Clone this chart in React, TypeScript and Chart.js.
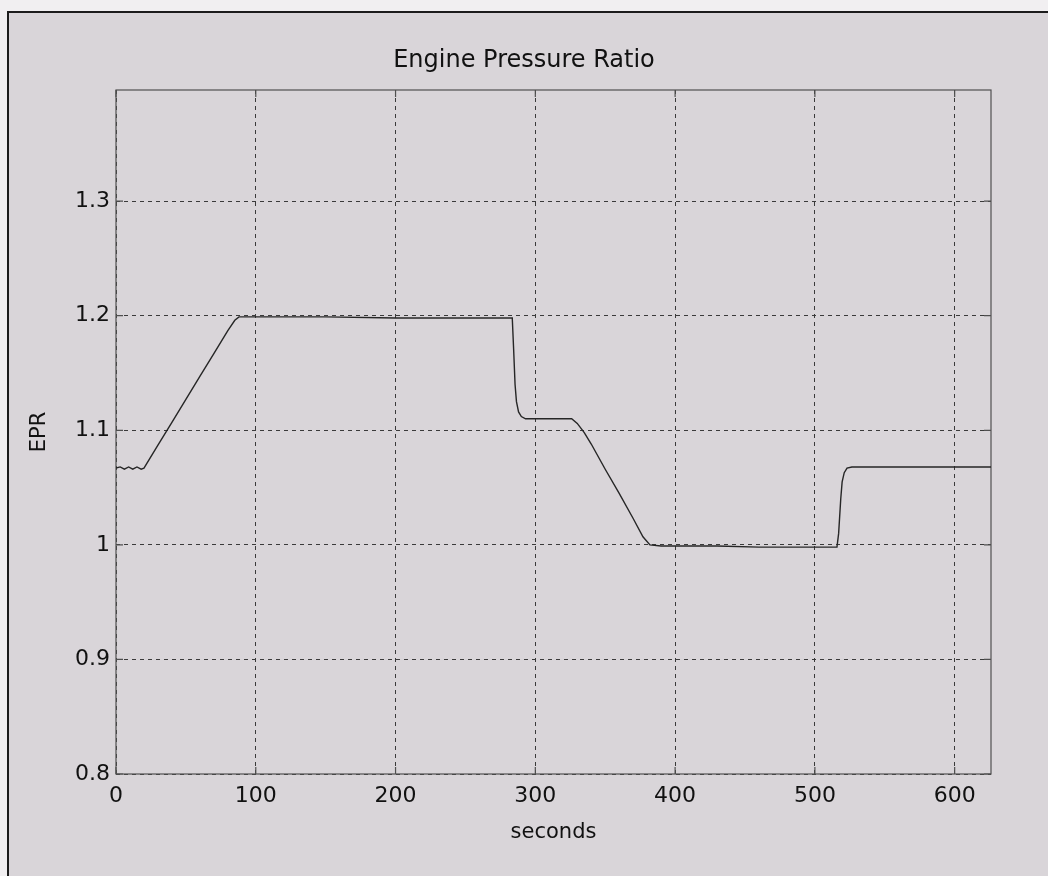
import React, { useEffect, useRef } from "react";
import { Chart, registerables } from "chart.js";

Chart.register(...registerables);

const chartTitle = "Engine Pressure Ratio";
const xAxisLabel = "seconds";
const yAxisLabel = "EPR";

const timeSeconds = [
  0, 3, 6, 9, 12, 15, 18, 20,
  30, 40, 50, 60, 70, 80, 85, 88, 95,
  150, 200, 250, 283.5,
  284.5, 285.5, 286.5, 288, 290, 293,
  310, 326, 330, 335, 340, 350, 360, 370, 377, 382,
  390, 400, 430, 460, 490, 515.8,
  517, 518.5, 519.5, 521, 523, 526.5,
  560, 600, 626,
];
const eprValues = [
  1.067, 1.068, 1.066, 1.068, 1.066, 1.068, 1.066, 1.067,
  1.087, 1.107, 1.127, 1.147, 1.167, 1.187, 1.196, 1.199, 1.199,
  1.199, 1.198, 1.198, 1.198,
  1.17, 1.14, 1.125, 1.116, 1.112, 1.11,
  1.11, 1.11, 1.106, 1.098, 1.088, 1.066, 1.045, 1.023, 1.007, 1.0,
  0.999, 0.999, 0.999, 0.998, 0.998, 0.998,
  1.01, 1.04, 1.055, 1.063, 1.067, 1.068,
  1.068, 1.068, 1.068,
];

const xTickValues = [0, 100, 200, 300, 400, 500, 600];
const yTickValues = [0.8, 0.9, 1.0, 1.1, 1.2, 1.3];

const FONT = "'DejaVu Sans', 'Liberation Sans', Arial, sans-serif";

const boxPlugin = {
  id: "matlabBox",
  beforeDatasetsDraw(chart: any) {
    const { ctx, chartArea } = chart;
    const { left, right, top, bottom } = chartArea;
    const xs = chart.scales.x;
    const ys = chart.scales.y;
    ctx.save();
    ctx.strokeStyle = "#505050";
    ctx.lineWidth = 1.2;
    ctx.setLineDash([]);
    ctx.strokeRect(left, top, right - left, bottom - top);
    const len = 7;
    ctx.beginPath();
    xTickValues.forEach((v) => {
      const px = xs.getPixelForValue(v);
      ctx.moveTo(px, bottom);
      ctx.lineTo(px, bottom - len);
      ctx.moveTo(px, top);
      ctx.lineTo(px, top + len);
    });
    yTickValues.forEach((v) => {
      const py = ys.getPixelForValue(v);
      ctx.moveTo(left, py);
      ctx.lineTo(left + len, py);
      ctx.moveTo(right, py);
      ctx.lineTo(right - len, py);
    });
    ctx.stroke();
    ctx.restore();
  },
};

export default function App() {
  const canvasRef = useRef<HTMLCanvasElement | null>(null);

  useEffect(() => {
    const canvas = canvasRef.current;
    if (!canvas) return;
    const data = timeSeconds.map((t, i) => ({ x: t, y: eprValues[i] }));
    const chart = new Chart(canvas, {
      type: "line",
      data: {
        datasets: [
          {
            label: "EPR",
            data,
            borderColor: "#262626",
            borderWidth: 1.4,
            pointRadius: 0,
            tension: 0,
            fill: false,
          },
        ],
      },
      options: {
        animation: false,
        responsive: false,
        maintainAspectRatio: false,
        layout: { padding: { left: 57, right: 57, top: 0, bottom: 0 } },
        plugins: {
          legend: { display: false },
          tooltip: { enabled: false },
          title: {
            display: true,
            text: chartTitle,
            color: "#111",
            font: { family: FONT, size: 24, weight: "normal" },
            padding: { top: 46, bottom: 15.2 },
          },
        },
        scales: {
          x: {
            type: "linear",
            min: 0,
            max: 626,
            afterFit: (scale: any) => {
              scale.height = 102;
            },
            afterBuildTicks: (scale: any) => {
              scale.ticks = xTickValues.map((v) => ({ value: v }));
            },
            ticks: {
              color: "#111",
              font: { family: FONT, size: 22 },
              padding: 9,
              maxRotation: 0,
              autoSkip: false,
              callback: (v: any) => String(v),
            },
            grid: {
              color: "#3a3a3a",
              lineWidth: 1,
              drawTicks: false,
            },
            border: { display: false, dash: [4, 4] },
            title: {
              display: true,
              text: xAxisLabel,
              color: "#111",
              font: { family: FONT, size: 21 },
              padding: { top: 0, bottom: 31 },
            },
          },
          y: {
            type: "linear",
            min: 0.8,
            max: 1.397,
            afterFit: (scale: any) => {
              scale.width = 59;
            },
            afterBuildTicks: (scale: any) => {
              scale.ticks = yTickValues.map((v) => ({ value: v }));
            },
            ticks: {
              color: "#111",
              font: { family: FONT, size: 22 },
              padding: 6,
              autoSkip: false,
              callback: (v: any) => String(Math.round(Number(v) * 10) / 10),
            },
            grid: {
              color: "#3a3a3a",
              lineWidth: 1,
              drawTicks: false,
            },
            border: { display: false, dash: [4, 4] },
            title: {
              display: true,
              text: yAxisLabel,
              color: "#111",
              font: { family: FONT, size: 21 },
              padding: { top: -29.6, bottom: 0 },
            },
          },
        },
      } as any,
      plugins: [boxPlugin],
    });
    return () => chart.destroy();
  }, []);

  return (
    <div
      style={{
        position: "absolute",
        left: 0,
        top: 0,
        width: 1048,
        height: 876,
        overflow: "hidden",
        background: "#f1eff1",
      }}
    >
      <div
        style={{
          position: "absolute",
          left: 7,
          top: 11,
          width: 1100,
          height: 900,
          borderLeft: "2px solid #1c1c1c",
          borderTop: "2px solid #1c1c1c",
          background: "#d9d5d9",
        }}
      />
      <canvas
        ref={canvasRef}
        width={1048}
        height={876}
        style={{ position: "absolute", left: 0, top: 0, width: 1048, height: 876 }}
      />
    </div>
  );
}
